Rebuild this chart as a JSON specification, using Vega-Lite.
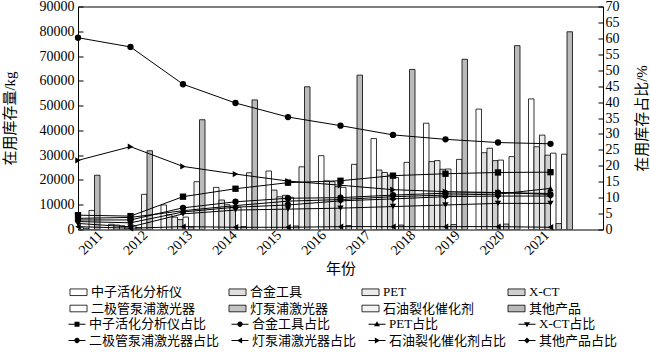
{
  "$schema": "https://vega.github.io/schema/vega-lite/v6.json",
  "width": 525,
  "height": 223,
  "autosize": {"type": "none"},
  "padding": {"left": 78, "top": 6.5, "right": 47, "bottom": 122.5},
  "config": {
    "view": {"stroke": "black", "strokeWidth": 1},
    "font": "Liberation Serif, Noto Sans CJK SC",
    "axis": {"labelFont": "Liberation Serif, Noto Sans CJK SC", "titleFont": "Liberation Serif, Noto Sans CJK SC", "labelColor": "black", "titleColor": "black", "titleFontWeight": "normal", "tickColor": "black", "domain": false, "grid": false, "labelFontSize": 14, "titleFontSize": 15},
    "legend": {"labelFont": "Liberation Serif, Noto Sans CJK SC", "labelFontSize": 13, "labelColor": "black"}
  },
  "datasets": {
    "bars": [
      {"year": 2011, "series": "中子活化分析仪", "value": 1500}, {"year": 2012, "series": "中子活化分析仪", "value": 2100}, {"year": 2013, "series": "中子活化分析仪", "value": 9900}, {"year": 2014, "series": "中子活化分析仪", "value": 17000}, {"year": 2015, "series": "中子活化分析仪", "value": 23600}, {"year": 2016, "series": "中子活化分析仪", "value": 29800}, {"year": 2017, "series": "中子活化分析仪", "value": 36700}, {"year": 2018, "series": "中子活化分析仪", "value": 42900}, {"year": 2019, "series": "中子活化分析仪", "value": 48600}, {"year": 2020, "series": "中子活化分析仪", "value": 52700},
      {"year": 2011, "series": "合金工具", "value": 1200}, {"year": 2012, "series": "合金工具", "value": 1800}, {"year": 2013, "series": "合金工具", "value": 6000}, {"year": 2014, "series": "合金工具", "value": 11900}, {"year": 2015, "series": "合金工具", "value": 15900}, {"year": 2016, "series": "合金工具", "value": 19600}, {"year": 2017, "series": "合金工具", "value": 24000}, {"year": 2018, "series": "合金工具", "value": 27400}, {"year": 2019, "series": "合金工具", "value": 31000}, {"year": 2020, "series": "合金工具", "value": 33400},
      {"year": 2011, "series": "PET", "value": 1000}, {"year": 2012, "series": "PET", "value": 1500}, {"year": 2013, "series": "PET", "value": 5000}, {"year": 2014, "series": "PET", "value": 10000}, {"year": 2015, "series": "PET", "value": 13200}, {"year": 2016, "series": "PET", "value": 19300}, {"year": 2017, "series": "PET", "value": 23000}, {"year": 2018, "series": "PET", "value": 27800}, {"year": 2019, "series": "PET", "value": 32800}, {"year": 2020, "series": "PET", "value": 38100},
      {"year": 2011, "series": "X-CT", "value": 800}, {"year": 2012, "series": "X-CT", "value": 1200}, {"year": 2013, "series": "X-CT", "value": 4000}, {"year": 2014, "series": "X-CT", "value": 9000}, {"year": 2015, "series": "X-CT", "value": 13800}, {"year": 2016, "series": "X-CT", "value": 17300}, {"year": 2017, "series": "X-CT", "value": 22000}, {"year": 2018, "series": "X-CT", "value": 24300}, {"year": 2019, "series": "X-CT", "value": 27800}, {"year": 2020, "series": "X-CT", "value": 30000},
      {"year": 2011, "series": "二极管泵浦激光器", "value": 700}, {"year": 2012, "series": "二极管泵浦激光器", "value": 1500}, {"year": 2013, "series": "二极管泵浦激光器", "value": 5000}, {"year": 2014, "series": "二极管泵浦激光器", "value": 9000}, {"year": 2015, "series": "二极管泵浦激光器", "value": 13000}, {"year": 2016, "series": "二极管泵浦激光器", "value": 17000}, {"year": 2017, "series": "二极管泵浦激光器", "value": 21000}, {"year": 2018, "series": "二极管泵浦激光器", "value": 24400}, {"year": 2019, "series": "二极管泵浦激光器", "value": 28000}, {"year": 2020, "series": "二极管泵浦激光器", "value": 30800},
      {"year": 2011, "series": "灯泵浦激光器", "value": 500}, {"year": 2012, "series": "灯泵浦激光器", "value": 800}, {"year": 2013, "series": "灯泵浦激光器", "value": 1000}, {"year": 2014, "series": "灯泵浦激光器", "value": 1200}, {"year": 2015, "series": "灯泵浦激光器", "value": 1400}, {"year": 2016, "series": "灯泵浦激光器", "value": 1600}, {"year": 2017, "series": "灯泵浦激光器", "value": 1800}, {"year": 2018, "series": "灯泵浦激光器", "value": 2000}, {"year": 2019, "series": "灯泵浦激光器", "value": 2200}, {"year": 2020, "series": "灯泵浦激光器", "value": 2400},
      {"year": 2011, "series": "石油裂化催化剂", "value": 7700}, {"year": 2012, "series": "石油裂化催化剂", "value": 14200}, {"year": 2013, "series": "石油裂化催化剂", "value": 19300}, {"year": 2014, "series": "石油裂化催化剂", "value": 22900}, {"year": 2015, "series": "石油裂化催化剂", "value": 25300}, {"year": 2016, "series": "石油裂化催化剂", "value": 26300}, {"year": 2017, "series": "石油裂化催化剂", "value": 27100}, {"year": 2018, "series": "石油裂化催化剂", "value": 28300}, {"year": 2019, "series": "石油裂化催化剂", "value": 29400}, {"year": 2020, "series": "石油裂化催化剂", "value": 30400},
      {"year": 2011, "series": "其他产品", "value": 21900}, {"year": 2012, "series": "其他产品", "value": 31800}, {"year": 2013, "series": "其他产品", "value": 44300}, {"year": 2014, "series": "其他产品", "value": 52300}, {"year": 2015, "series": "其他产品", "value": 57600}, {"year": 2016, "series": "其他产品", "value": 62300}, {"year": 2017, "series": "其他产品", "value": 64600}, {"year": 2018, "series": "其他产品", "value": 68700}, {"year": 2019, "series": "其他产品", "value": 74200}, {"year": 2020, "series": "其他产品", "value": 79800}
    ],
    "lines": [
      {"year": 2011, "series": "中子活化分析仪占比", "pct": 4.5}, {"year": 2012, "series": "中子活化分析仪占比", "pct": 4.2}, {"year": 2013, "series": "中子活化分析仪占比", "pct": 10.3}, {"year": 2014, "series": "中子活化分析仪占比", "pct": 12.8}, {"year": 2015, "series": "中子活化分析仪占比", "pct": 14.7}, {"year": 2016, "series": "中子活化分析仪占比", "pct": 15.3}, {"year": 2017, "series": "中子活化分析仪占比", "pct": 16.9}, {"year": 2018, "series": "中子活化分析仪占比", "pct": 17.5}, {"year": 2019, "series": "中子活化分析仪占比", "pct": 17.9}, {"year": 2020, "series": "中子活化分析仪占比", "pct": 18.0},
      {"year": 2011, "series": "合金工具占比", "pct": 3.0}, {"year": 2012, "series": "合金工具占比", "pct": 3.0}, {"year": 2013, "series": "合金工具占比", "pct": 6.8}, {"year": 2014, "series": "合金工具占比", "pct": 8.7}, {"year": 2015, "series": "合金工具占比", "pct": 9.8}, {"year": 2016, "series": "合金工具占比", "pct": 10.0}, {"year": 2017, "series": "合金工具占比", "pct": 10.8}, {"year": 2018, "series": "合金工具占比", "pct": 11.4}, {"year": 2019, "series": "合金工具占比", "pct": 11.6}, {"year": 2020, "series": "合金工具占比", "pct": 11.0},
      {"year": 2011, "series": "PET占比", "pct": 3.5}, {"year": 2012, "series": "PET占比", "pct": 3.8}, {"year": 2013, "series": "PET占比", "pct": 5.9}, {"year": 2014, "series": "PET占比", "pct": 7.5}, {"year": 2015, "series": "PET占比", "pct": 8.9}, {"year": 2016, "series": "PET占比", "pct": 9.4}, {"year": 2017, "series": "PET占比", "pct": 10.3}, {"year": 2018, "series": "PET占比", "pct": 10.8}, {"year": 2019, "series": "PET占比", "pct": 11.1}, {"year": 2020, "series": "PET占比", "pct": 12.9},
      {"year": 2011, "series": "X-CT占比", "pct": 1.9}, {"year": 2012, "series": "X-CT占比", "pct": 0.8}, {"year": 2013, "series": "X-CT占比", "pct": 4.9}, {"year": 2014, "series": "X-CT占比", "pct": 6.1}, {"year": 2015, "series": "X-CT占比", "pct": 6.4}, {"year": 2016, "series": "X-CT占比", "pct": 6.7}, {"year": 2017, "series": "X-CT占比", "pct": 7.2}, {"year": 2018, "series": "X-CT占比", "pct": 7.7}, {"year": 2019, "series": "X-CT占比", "pct": 8.2}, {"year": 2020, "series": "X-CT占比", "pct": 8.2},
      {"year": 2011, "series": "二极管泵浦激光器占比", "pct": 60.2}, {"year": 2012, "series": "二极管泵浦激光器占比", "pct": 57.3}, {"year": 2013, "series": "二极管泵浦激光器占比", "pct": 45.6}, {"year": 2014, "series": "二极管泵浦激光器占比", "pct": 39.7}, {"year": 2015, "series": "二极管泵浦激光器占比", "pct": 35.3}, {"year": 2016, "series": "二极管泵浦激光器占比", "pct": 32.6}, {"year": 2017, "series": "二极管泵浦激光器占比", "pct": 29.7}, {"year": 2018, "series": "二极管泵浦激光器占比", "pct": 28.3}, {"year": 2019, "series": "二极管泵浦激光器占比", "pct": 27.3}, {"year": 2020, "series": "二极管泵浦激光器占比", "pct": 26.9},
      {"year": 2011, "series": "灯泵浦激光器占比", "pct": 0.9}, {"year": 2012, "series": "灯泵浦激光器占比", "pct": 0.4}, {"year": 2013, "series": "灯泵浦激光器占比", "pct": 0.9}, {"year": 2014, "series": "灯泵浦激光器占比", "pct": 0.7}, {"year": 2015, "series": "灯泵浦激光器占比", "pct": 0.7}, {"year": 2016, "series": "灯泵浦激光器占比", "pct": 0.9}, {"year": 2017, "series": "灯泵浦激光器占比", "pct": 0.9}, {"year": 2018, "series": "灯泵浦激光器占比", "pct": 0.9}, {"year": 2019, "series": "灯泵浦激光器占比", "pct": 0.9}, {"year": 2020, "series": "灯泵浦激光器占比", "pct": 0.7},
      {"year": 2011, "series": "石油裂化催化剂占比", "pct": 21.7}, {"year": 2012, "series": "石油裂化催化剂占比", "pct": 26.0}, {"year": 2013, "series": "石油裂化催化剂占比", "pct": 19.8}, {"year": 2014, "series": "石油裂化催化剂占比", "pct": 17.4}, {"year": 2015, "series": "石油裂化催化剂占比", "pct": 15.2}, {"year": 2016, "series": "石油裂化催化剂占比", "pct": 13.9}, {"year": 2017, "series": "石油裂化催化剂占比", "pct": 12.5}, {"year": 2018, "series": "石油裂化催化剂占比", "pct": 11.9}, {"year": 2019, "series": "石油裂化催化剂占比", "pct": 11.6}, {"year": 2020, "series": "石油裂化催化剂占比", "pct": 11.3},
      {"year": 2011, "series": "其他产品占比", "pct": 2.5}, {"year": 2012, "series": "其他产品占比", "pct": 2.1}, {"year": 2013, "series": "其他产品占比", "pct": 5.5}, {"year": 2014, "series": "其他产品占比", "pct": 7.0}, {"year": 2015, "series": "其他产品占比", "pct": 7.7}, {"year": 2016, "series": "其他产品占比", "pct": 9.0}, {"year": 2017, "series": "其他产品占比", "pct": 9.6}, {"year": 2018, "series": "其他产品占比", "pct": 10.3}, {"year": 2019, "series": "其他产品占比", "pct": 10.5}, {"year": 2020, "series": "其他产品占比", "pct": 10.5}
    ],
    "years": [
      {"year": 2011}, {"year": 2012}, {"year": 2013}, {"year": 2014}, {"year": 2015}, {"year": 2016}, {"year": 2017}, {"year": 2018}, {"year": 2019}, {"year": 2020}, {"year": 2021}
    ]
  },
  "layer": [
    {
      "data": {"name": "bars"},
      "mark": {"type": "bar", "stroke": "black", "strokeWidth": 0.8, "clip": true},
      "encoding": {
        "x": {"field": "year", "type": "ordinal", "scale": {"range": [-26.25, 498.75], "paddingInner": 0, "paddingOuter": 0}, "axis": null},
        "xOffset": {"field": "series", "type": "nominal", "sort": ["中子活化分析仪", "合金工具", "PET", "X-CT", "二极管泵浦激光器", "灯泵浦激光器", "石油裂化催化剂", "其他产品"], "scale": {"paddingInner": 0, "paddingOuter": 0.77}},
        "y": {"field": "value", "type": "quantitative", "scale": {"domain": [0, 90000], "nice": false}, "axis": {"orient": "left", "values": [0, 10000, 20000, 30000, 40000, 50000, 60000, 70000, 80000, 90000], "format": "d", "tickSize": -5, "labelPadding": 9, "title": "在用库存量/kg", "titleX": -69, "titleY": 111.5, "titleAngle": -90, "titleAlign": "center", "titleBaseline": "middle"}},
        "fill": {"field": "series", "type": "nominal", "scale": {"domain": ["中子活化分析仪", "合金工具", "PET", "X-CT", "二极管泵浦激光器", "灯泵浦激光器", "石油裂化催化剂", "其他产品"], "range": ["#ffffff", "#dedede", "#ebebeb", "#cfcfcf", "#ffffff", "#c4c4c4", "#f3f3f3", "#bababa"]},
          "legend": {"title": null, "orient": "none", "legendX": -6, "legendY": 279, "direction": "horizontal", "columns": 4, "columnPadding": 31, "rowPadding": 2.5, "symbolType": "M-1.55,-0.6H1.55V0.6H-1.55Z", "symbolSize": 121, "symbolStrokeColor": "black", "symbolStrokeWidth": 0.8, "labelOffset": 6}}
      }
    },
    {
      "data": {"name": "lines"},
      "encoding": {
        "x": {"field": "year", "type": "quantitative", "scale": {"domain": [2011, 2021], "nice": false, "zero": false}, "axis": null},
        "y": {"field": "pct", "type": "quantitative", "scale": {"domain": [0, 70], "nice": false}, "axis": {"orient": "right", "values": [0, 5, 10, 15, 20, 25, 30, 35, 40, 45, 50, 55, 60, 65, 70], "tickSize": -5, "labelPadding": 7, "title": "在用库存占比/%", "titleX": 38.5, "titleY": 111.5, "titleAngle": -90, "titleAlign": "center", "titleBaseline": "middle"}},
        "detail": {"field": "series", "type": "nominal"}
      },
      "layer": [
        {"mark": {"type": "line", "color": "black", "strokeWidth": 1}},
        {"mark": {"type": "point", "filled": true, "color": "black", "size": 40, "opacity": 1},
         "encoding": {
           "shape": {"field": "series", "type": "nominal", "scale": {"domain": ["中子活化分析仪占比", "合金工具占比", "PET占比", "X-CT占比", "二极管泵浦激光器占比", "灯泵浦激光器占比", "石油裂化催化剂占比", "其他产品占比"], "range": ["square", "circle", "triangle-up", "triangle-down", "circle", "triangle-left", "triangle-right", "diamond"]}, "legend": null}
         }}
      ]
    },
    {
      "data": {"name": "lines"},
      "mark": {"type": "point", "filled": true, "color": "black", "opacity": 0},
      "encoding": {
        "x": {"field": "year", "type": "quantitative", "axis": null},
        "y": {"field": "pct", "type": "quantitative", "axis": null},
        "shape": {"field": "series", "type": "nominal", "scale": {"domain": ["中子活化分析仪占比", "合金工具占比", "PET占比", "X-CT占比", "二极管泵浦激光器占比", "灯泵浦激光器占比", "石油裂化催化剂占比", "其他产品占比"], "range": [
            "M-2.4,-0.15H2.4V0.15H-2.4ZM-0.7,-0.7H0.7V0.7H-0.7Z",
            "M-2.4,-0.15H2.4V0.15H-2.4ZM-0.75,0A0.75,0.75 0 1,1 0.75,0A0.75,0.75 0 1,1 -0.75,0Z",
            "M-2.4,-0.15H2.4V0.15H-2.4ZM0,-0.85L0.85,0.6H-0.85Z",
            "M-2.4,-0.15H2.4V0.15H-2.4ZM0,0.85L-0.85,-0.6H0.85Z",
            "M-2.4,-0.15H2.4V0.15H-2.4ZM-0.75,0A0.75,0.75 0 1,1 0.75,0A0.75,0.75 0 1,1 -0.75,0Z",
            "M-2.4,-0.15H2.4V0.15H-2.4ZM-0.85,0L0.6,-0.85V0.85Z",
            "M-2.4,-0.15H2.4V0.15H-2.4ZM0.85,0L-0.6,0.85V-0.85Z",
            "M-2.4,-0.15H2.4V0.15H-2.4ZM0,-0.85L0.85,0L0,0.85L-0.85,0Z"]},
          "legend": {"title": null, "orient": "none", "legendX": -7.5, "legendY": 311, "direction": "horizontal", "columns": 4, "columnPadding": 9, "rowPadding": 2.5, "symbolSize": 50, "symbolOpacity": 1, "symbolFillColor": "black", "labelOffset": 5.5}}
      }
    },
    {
      "data": {"name": "years"},
      "mark": {"type": "point", "opacity": 0},
      "encoding": {
        "x": {"field": "year", "type": "quantitative", "scale": {"domain": [2010.716, 2022.488], "nice": false, "zero": false},
          "axis": {"orient": "bottom", "values": [2011, 2012, 2013, 2014, 2015, 2016, 2017, 2018, 2019, 2020, 2021], "format": "d", "labelAngle": -45, "labelAlign": "center", "labelBaseline": "middle", "labelPadding": 13, "ticks": false, "labelFlush": false, "labelOverlap": false, "title": "年份", "titlePadding": 4}}
      }
    }
  ],
  "resolve": {"scale": {"x": "independent", "y": "independent", "shape": "independent"}, "legend": {"shape": "independent"}}
}
